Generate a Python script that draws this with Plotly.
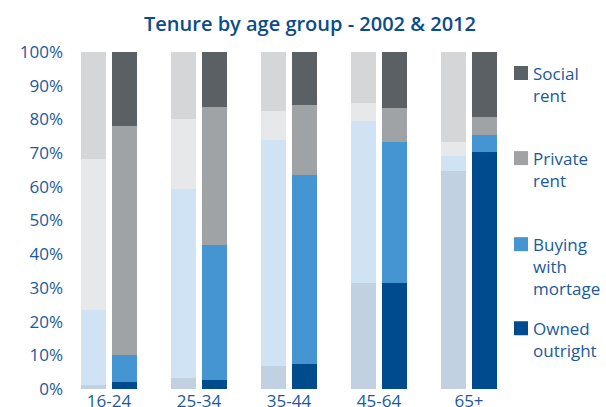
import plotly.graph_objects as go
import numpy as np

age_groups = ["16-24", "25-34", "35-44", "45-64", "65+"]
tenures = ["Owned outright", "Buying with mortage", "Private rent", "Social rent"]
legend_labels = ["Owned<br>outright", "Buying<br>with<br>mortage", "Private<br>rent", "Social<br>rent"]

# shares in percent, 2002
owned_2002 = [1.2, 3.2, 6.7, 31.4, 64.7]
buying_2002 = [22.2, 56.1, 67.2, 48.1, 4.4]
private_2002 = [44.8, 20.8, 8.5, 5.3, 4.2]
social_2002 = [31.8, 19.9, 17.6, 15.2, 26.7]

# shares in percent, 2012
owned_2012 = [2.0, 2.6, 7.4, 31.4, 70.3]
buying_2012 = [8.0, 40.1, 56.1, 41.9, 5.0]
private_2012 = [68.0, 41.0, 20.9, 10.0, 5.4]
social_2012 = [22.0, 16.3, 15.6, 16.7, 19.3]

colors_2002 = ["#C1D1E2", "#CFE3F4", "#E7E8E9", "#D5D6D8"]
colors_2012 = ["#004B8D", "#4595D3", "#9FA3A6", "#5B6064"]

data_2002 = [owned_2002, buying_2002, private_2002, social_2002]
data_2012 = [owned_2012, buying_2012, private_2012, social_2012]

pos = np.arange(len(age_groups))
offset = 0.167
bar_w = 0.278

fig = go.Figure()
for name, vals, col in zip(tenures, data_2002, colors_2002):
    fig.add_trace(go.Bar(x=pos - offset, y=vals, width=bar_w, marker_color=col,
                         marker_line_width=0, name=name + " 2002", showlegend=False))
for name, vals, col in zip(tenures, data_2012, colors_2012):
    fig.add_trace(go.Bar(x=pos + offset, y=vals, width=bar_w, marker_color=col,
                         marker_line_width=0, name=name + " 2012", showlegend=False))

text_col = "#1A5A9C"
font_fam = "Open Sans, DejaVu Sans, sans-serif"

L, T, PW, PH = 64, 52, 450, 336.7
W, H = 606, 407

def px_x(p):
    return (p - L) / PW

def px_y(p):
    return (T + PH - p) / PH

legend_tops = [328, 244, 158, 73]  # y centers of squares (pixels)
shapes = []
annotations = []
for lab, col, yc in zip(legend_labels, colors_2012, legend_tops):
    shapes.append(dict(type="rect", xref="paper", yref="paper",
                       x0=px_x(514), x1=px_x(528), y0=px_y(yc + 7), y1=px_y(yc - 7),
                       fillcolor=col, line_width=0))
    annotations.append(dict(xref="paper", yref="paper", x=px_x(531), y=px_y(yc - 13),
                            xanchor="left", yanchor="top", align="left", showarrow=False,
                            text=lab, font=dict(size=17, color=text_col, family=font_fam)))

fig.update_layout(
    width=W, height=H,
    margin=dict(l=L, r=W - L - PW, t=T, b=H - T - PH, autoexpand=False),
    barmode="stack",
    bargap=0,
    plot_bgcolor="white", paper_bgcolor="white",
    title=dict(text="Tenure by age group - 2002 & 2012", x=310 / W, xanchor="center",
               y=1 - 24 / H, yanchor="middle",
               font=dict(size=20, color="#0B4C8C", family=font_fam, weight=600)),
    xaxis=dict(range=[-0.5, 4.5], tickvals=pos, ticktext=age_groups, showgrid=False,
               zeroline=False, showline=False, ticks="", fixedrange=True, automargin=False,
               tickfont=dict(size=17, color=text_col, family=font_fam)),
    yaxis=dict(range=[0, 100], tickvals=list(range(0, 101, 10)),
               ticktext=[f"{v}%" for v in range(0, 101, 10)], showgrid=False,
               zeroline=False, showline=False, ticks="", fixedrange=True, automargin=False,
               tickfont=dict(size=17, color=text_col, family=font_fam)),
    shapes=shapes, annotations=annotations,
    showlegend=False,
)

fig.write_html("out.html")
